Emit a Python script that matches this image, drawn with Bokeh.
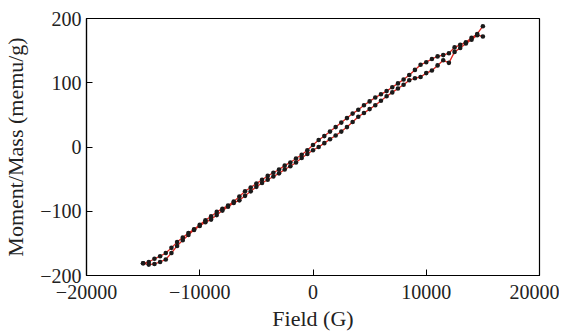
from bokeh.plotting import figure
from bokeh.models import FixedTicker, Range1d
from bokeh.embed import file_html
from bokeh.resources import INLINE

# Field values (G), shared by both branches
field = [-15000, -14500, -14000, -13500, -13000, -12500, -12000, -11500, -11000, -10500,
         -10000, -9500, -9000, -8500, -8000, -7500, -7000, -6500, -6000, -5500,
         -5000, -4500, -4000, -3500, -3000, -2500, -2000, -1500, -1000, -500,
         0, 500, 1000, 1500, 2000, 2500, 3000, 3500, 4000, 4500,
         5000, 5500, 6000, 6500, 7000, 7500, 8000, 8500, 9000, 9500,
         10000, 10500, 11000, 11500, 12000, 12500, 13000, 13500, 14000, 14500, 15000]

# Descending branch (upper-left curve), memu/g
moment_desc = [-181, -179, -174, -170, -165, -157, -148, -141, -134, -128,
               -121, -114, -108, -101, -96, -91, -85, -77, -69, -63,
               -57, -51, -45, -40, -35, -29, -24, -18, -12, -5,
               3, 11, 17, 24, 31, 38, 45, 52, 58, 65,
               71, 77, 82, 87, 93, 99, 105, 112, 120, 128,
               132, 137, 141, 143, 146, 155, 159, 163, 170, 176, 188]

# Ascending branch (lower-right curve), memu/g
moment_asc = [-181, -183, -182, -179, -175, -165, -154, -145, -137, -129,
              -123, -117, -113, -106, -99, -93, -87, -83, -76, -69,
              -62, -56, -51, -46, -41, -35, -30, -24, -17, -11,
              -5, 0, 6, 12, 18, 24, 31, 39, 47, 53,
              59, 65, 72, 79, 85, 91, 97, 104, 107, 109,
              115, 119, 127, 135, 131, 148, 154, 161, 167, 174, 172]

x_ticks = [-20000, -10000, 0, 10000, 20000]
x_tick_labels = ["\u221220000", "\u221210000", "0", "10000", "20000"]
y_ticks = [-200, -100, 0, 100, 200]
y_tick_labels = ["\u2212200", "\u2212100", "0", "100", "200"]

FONT = "Liberation Serif"

p = figure(width=559, height=333, output_backend="svg", toolbar_location=None,
           x_range=Range1d(-20000, 20000), y_range=Range1d(-200, 200),
           min_border_left=86, min_border_right=20, min_border_top=18, min_border_bottom=57)

p.background_fill_color = "white"
p.border_fill_color = "white"
p.outline_line_color = "black"
p.outline_line_width = 1.2
p.xgrid.visible = False
p.ygrid.visible = False

# loop path: descending branch then ascending branch
path_x = field[::-1] + field[1:]
path_y = moment_desc[::-1] + moment_asc[1:]
p.line(path_x, path_y, line_color="#e3261f", line_width=1.3)
p.scatter(field, moment_desc, size=4.6, fill_color="#1a1a1a", line_color=None)
p.scatter(field, moment_asc, size=4.6, fill_color="#1a1a1a", line_color=None)

for ax, ticks, labels in ((p.xaxis[0], x_ticks, x_tick_labels), (p.yaxis[0], y_ticks, y_tick_labels)):
    ax.ticker = FixedTicker(ticks=ticks)
    ax.major_label_overrides = {t: l for t, l in zip(ticks, labels)}
    ax.major_tick_in = 6
    ax.major_tick_out = 0
    ax.minor_tick_line_color = None
    ax.axis_line_color = "black"
    ax.axis_line_width = 1.2
    ax.major_tick_line_color = "black"
    ax.major_label_text_font = FONT
    ax.major_label_text_font_size = "20px"
    ax.major_label_text_color = "#222222"
    ax.axis_label_text_font = FONT
    ax.axis_label_text_font_size = "22px"
    ax.axis_label_text_font_style = "normal"
    ax.axis_label_text_color = "#222222"

p.xaxis.axis_label = "Field (G)"
p.yaxis.axis_label = "Moment/Mass (memu/g)"
p.xaxis.major_label_standoff = 9
p.xaxis.axis_label_standoff = 4
p.yaxis.major_label_standoff = 5
p.yaxis.axis_label_standoff = 9

open("out.html", "w").write(file_html(p, INLINE))
